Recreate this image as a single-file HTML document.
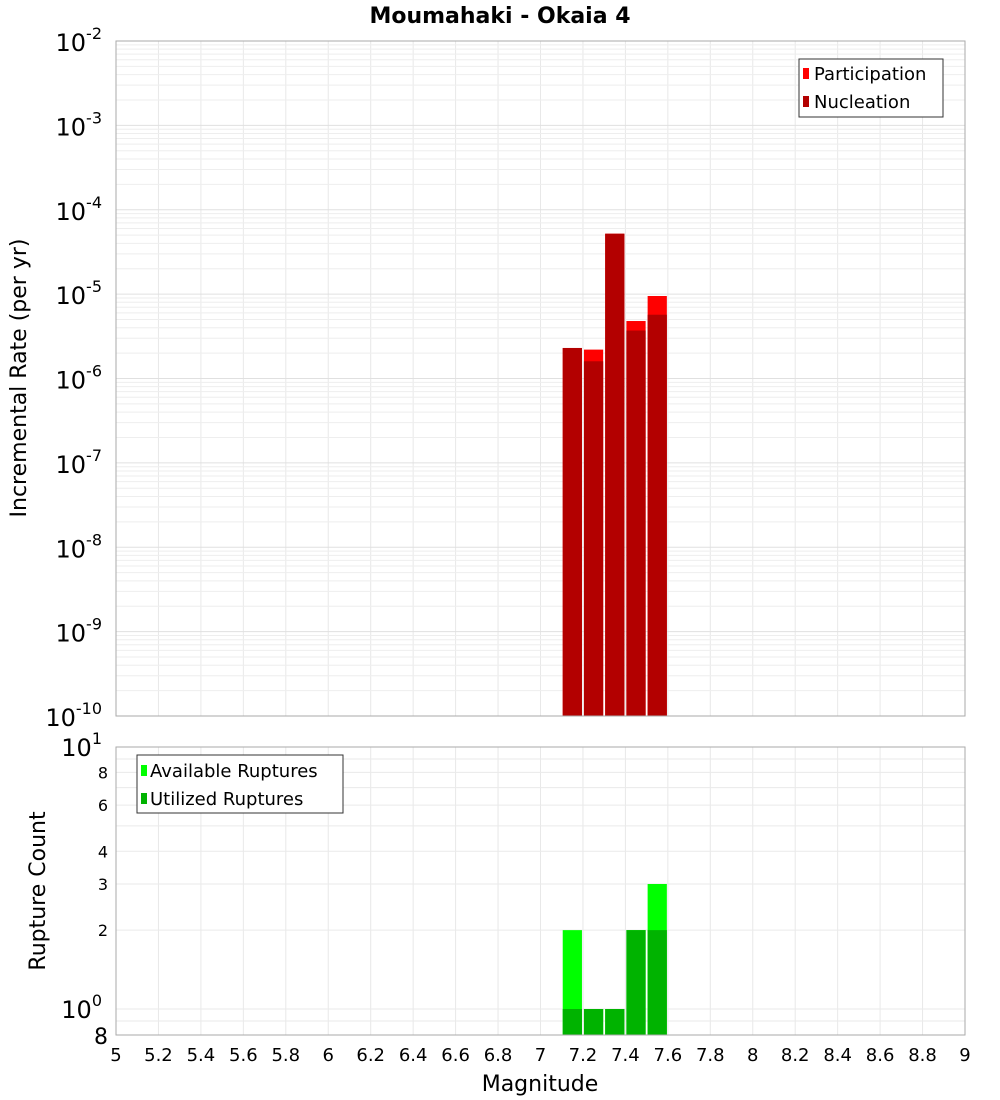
<!DOCTYPE html>
<html><head><meta charset="utf-8"><style>body{margin:0;background:#fff}svg{display:block;font-family:"DejaVu Sans","Liberation Sans",sans-serif}</style></head>
<body>
<svg id="c" width="1000" height="1100" xmlns="http://www.w3.org/2000/svg"></svg>
<script>
const categories=[7.15,7.25,7.35,7.45,7.55];
const participation=[2.3e-6,2.2e-6,5.2e-5,4.8e-6,9.5e-6];
const nucleation=[2.3e-6,1.6e-6,5.2e-5,3.7e-6,5.7e-6];
const available=[2,1,1,2,3];
const utilized=[1,1,1,2,2];
const xTicks=[5,5.2,5.4,5.6,5.8,6,6.2,6.4,6.6,6.8,7,7.2,7.4,7.6,7.8,8,8.2,8.4,8.6,8.8,9];
const topDecades=[-2,-3,-4,-5,-6,-7,-8,-9,-10];
const botTicks=[8,6,4,3,2];
const binWidth=0.1;

const NS="http://www.w3.org/2000/svg";
const svg=document.getElementById('c');
const L=116,R=965,T1=41,B1=716,T2=747,B2=1035;
const X=m=>L+(m-5)/4*(R-L);
const Y1=v=>T1+(-2-Math.log10(v))*(B1-T1)/8;
const Y2=v=>1009-262*Math.log10(v);
function el(tag,attrs,parent,name){const e=document.createElementNS(NS,tag);for(const k in attrs)e.setAttribute(k,attrs[k]);


(parent||svg).appendChild(e);return e;}
function txt(s,x,y,size,anchor,name,extra){const t=el('text',Object.assign({x:x,y:y,'font-size':size,'text-anchor':anchor||'middle',fill:'#000'},extra||{}),svg,name);t.textContent=s;return t;}

el('rect',{x:L,y:T1,width:R-L,height:B1-T1,fill:'#fff',stroke:'none'},svg,'top-plot-area');
el('rect',{x:L,y:T2,width:R-L,height:B2-T2,fill:'#fff',stroke:'none'},svg,'bottom-plot-area');
for(const m of xTicks){const x=X(m);
 el('line',{x1:x,x2:x,y1:T1,y2:B1,stroke:'#e8e8e8'},svg,'top-x-gridline');
 el('line',{x1:x,x2:x,y1:T2,y2:B2,stroke:'#e8e8e8'},svg,'bottom-x-gridline');}
for(let d=-10;d<-2;d++){for(let k=1;k<10;k++){const y=Y1(k*Math.pow(10,d));
 el('line',{x1:L,x2:R,y1:y,y2:y,stroke:k==1?'#e0e0e0':'#eeeeee'},svg,'top-y-gridline');}}
for(const v of [0.9,1,2,3,4,5,6,7,8,9]){const y=Y2(v);
 el('line',{x1:L,x2:R,y1:y,y2:y,stroke:'#eaeaea'},svg,'bottom-y-gridline');}
categories.forEach((m,i)=>{const x0=X(m-binWidth/2)+1,w=X(m+binWidth/2)-X(m-binWidth/2)-2;
 el('rect',{x:x0,y:Y1(participation[i]),width:w,height:B1-Y1(participation[i]),fill:'#ff0000'},svg,'participation-bar');
 el('rect',{x:x0,y:Y1(nucleation[i]),width:w,height:B1-Y1(nucleation[i]),fill:'#b30000'},svg,'nucleation-bar');
 el('rect',{x:x0,y:Y2(available[i]),width:w,height:B2-Y2(available[i]),fill:'#00ff00'},svg,'available-bar');
 el('rect',{x:x0,y:Y2(utilized[i]),width:w,height:B2-Y2(utilized[i]),fill:'#00b300'},svg,'utilized-bar');
});
el('rect',{x:L,y:T1,width:R-L,height:B1-T1,fill:'none',stroke:'#aaa'},svg,'top-plot-border');
el('rect',{x:L,y:T2,width:R-L,height:B2-T2,fill:'none',stroke:'#aaa'},svg,'bottom-plot-border');
txt('Moumahaki - Okaia 4',500,23,22,'middle','chart-title',{'font-weight':'bold'});
topDecades.forEach(d=>{const y=Y1(Math.pow(10,d));const t=txt('10',102,y+10,24,'end','top-y-tick-label');
 const s=document.createElementNS(NS,'tspan');s.setAttribute('font-size','16');s.setAttribute('dy','-12');s.textContent=String(d);t.appendChild(s);});
txt('Incremental Rate (per yr)',26,378,22,'middle','top-y-axis-title',{transform:'rotate(-90 26 378)'});
{const t=txt('10',102,Y2(10)+9,24,'end','bottom-y-tick-label');const s=document.createElementNS(NS,'tspan');s.setAttribute('font-size','16');s.setAttribute('dy','-12');s.textContent='1';t.appendChild(s);}
{const t=txt('10',102,Y2(1)+9,24,'end','bottom-y-tick-label');const s=document.createElementNS(NS,'tspan');s.setAttribute('font-size','16');s.setAttribute('dy','-12');s.textContent='0';t.appendChild(s);}
botTicks.forEach(v=>txt(String(v),108,Y2(v)+6,16,'end','bottom-y-tick-label'));
txt('8',108,B2+9,22,'end','bottom-y-tick-label');
txt('Rupture Count',45,891,22,'middle','bottom-y-axis-title',{transform:'rotate(-90 45 891)'});
xTicks.forEach(m=>txt(String(m),X(m),1061,18,'middle','x-tick-label'));
txt('Magnitude',540,1091,22,'middle','x-axis-title');
el('rect',{x:799,y:59,width:144,height:58,fill:'#fff',stroke:'#333'},svg,'top-legend');
el('rect',{x:803,y:68,width:6,height:11,fill:'#ff0000'},svg,'legend-participation-swatch');
txt('Participation',814,80,18,'start','legend-participation');
el('rect',{x:803,y:96,width:6,height:11,fill:'#b30000'},svg,'legend-nucleation-swatch');
txt('Nucleation',814,108,18,'start','legend-nucleation');
el('rect',{x:137,y:755,width:206,height:58,fill:'#fff',stroke:'#333'},svg,'bottom-legend');
el('rect',{x:141,y:765,width:6,height:11,fill:'#00ff00'},svg,'legend-available-swatch');
txt('Available Ruptures',150,777,18,'start','legend-available');
el('rect',{x:141,y:793,width:6,height:11,fill:'#00b300'},svg,'legend-utilized-swatch');
txt('Utilized Ruptures',150,805,18,'start','legend-utilized');
</script>
</body></html>
